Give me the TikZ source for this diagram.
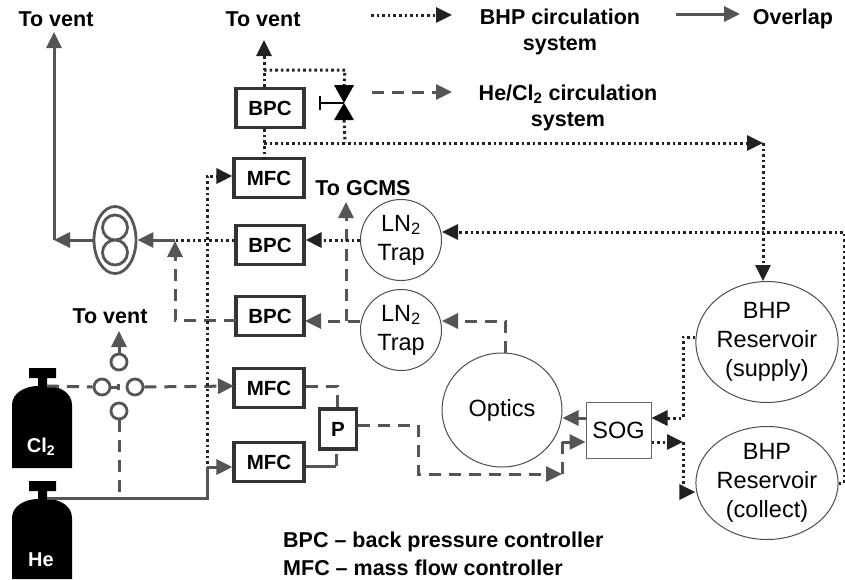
\documentclass[tikz,border=0pt]{standalone}
\usepackage{fontspec}
\setmainfont{Liberation Sans}
\usetikzlibrary{arrows.meta,shapes.geometric}
\definecolor{pipegray}{HTML}{555555}
\definecolor{pipedark}{HTML}{222222}
\tikzset{
 headtip/.style={-{Triangle[length=16pt,width=15pt]}},
 pipesolid/.style={draw=pipegray,line width=3pt,solid},
 pipedash/.style={draw=pipegray,line width=3pt,dash pattern=on 12pt off 8pt},
 pipedot/.style={draw=pipedark,line width=3pt,dash pattern=on 2.6pt off 3pt},
 ctrlbox/.style={draw=black!80,line width=3.2pt,rectangle,minimum width=68pt,minimum height=39pt,inner sep=0pt,font=\fontsize{20.5}{24}\selectfont\bfseries},
 vessel/.style={draw=black!70,line width=1pt,ellipse,inner sep=0pt,align=center,font=\fontsize{23.5}{29}\selectfont},
 portring/.style={draw=pipegray,line width=2.8pt,circle,minimum size=16pt,inner sep=0pt},
 lab/.style={font=\fontsize{21.5}{26}\selectfont\bfseries,align=center,inner sep=0pt},
 tanklab/.style={text=white,font=\fontsize{20}{24}\selectfont\bfseries,inner sep=0pt},
}
\begin{document}
\begin{tikzpicture}[x=1pt,y=-1pt]
 \useasboundingbox (0,0) rectangle (845,579);
 % controllers
 \node[ctrlbox] (bpca) at (270,108) {BPC};
 \node[ctrlbox,minimum width=70pt] (mfca) at (269,178) {MFC};
 \node[ctrlbox] (bpcb) at (270,245) {BPC};
 \node[ctrlbox] (bpcc) at (270,316) {BPC};
 \node[ctrlbox,minimum width=70pt] (mfcb) at (269,388) {MFC};
 \node[ctrlbox,minimum width=70pt] (mfcc) at (269,462) {MFC};
 \node[ctrlbox,minimum width=37pt,minimum height=40pt] (pbox) at (338,429) {P};
 % vessels
 \node[vessel,minimum width=81pt,minimum height=81pt] (traptop) at (401,240) {LN\textsubscript{2}\\Trap};
 \node[vessel,minimum width=81pt,minimum height=81pt] (trapbot) at (401,330) {LN\textsubscript{2}\\Trap};
 \node[vessel,minimum width=120pt,minimum height=114pt] (optics) at (502,410) {Optics};
 \node[draw=black!60,line width=1pt,minimum width=65pt,minimum height=56pt,inner sep=0pt,font=\fontsize{23.5}{29}\selectfont] (sog) at (618.5,430) {SOG};
 \node[vessel,minimum width=120pt,minimum height=121pt] (supply) at (767,342) {BHP\\Reservoir\\(supply)};
 \node[vessel,minimum width=120pt,minimum height=113pt] (collect) at (767,483) {BHP\\Reservoir\\(collect)};
 % pump
 \node[draw=pipegray,line width=2.8pt,ellipse,minimum width=42pt,minimum height=67pt,inner sep=0pt] (pump) at (115,240) {};
 \draw[pipegray,line width=2.8pt] (115,227.5) circle (12.5) (115,252.5) circle (12.5);
 % gas bottles
 \fill[black] (12,468)--(12,405) .. controls (12,393) and (25,386) .. (38,386)--(38,378)--(29,378)--(29,368)--(56,368)--(56,378)--(47,378)--(47,386) .. controls (60,386) and (72,393) .. (72,405)--(72,468)--cycle;
 \fill[black] (12,579)--(12,518) .. controls (12,506) and (25,499) .. (38,499)--(38,491)--(29,491)--(29,481)--(56,481)--(56,491)--(47,491)--(47,499) .. controls (60,499) and (72,506) .. (72,518)--(72,579)--cycle;
 \node[tanklab] (cllab) at (41,447) {Cl\textsubscript{2}};
 \node[tanklab] (helab) at (41,560) {He};
 \coordinate (clneck) at (47,386);
 \coordinate (heneck) at (47,498);
 % switching ports
 \node[portring] (portl) at (102,387) {};
 \node[portring] (portr) at (135,387) {};
 \node[portring] (portt) at (119,362) {};
 \node[portring] (portb) at (119,411) {};
 % valve
 \coordinate (vtop) at (344,85);
 \coordinate (vmid) at (344,103);
 \coordinate (vbot) at (344,120);
 \coordinate (vhand) at (320,103);
 \fill[black] (334,85)--(354,85)--(vmid)--cycle;
 \fill[black] (334,120)--(354,120)--(vmid)--cycle;
 \draw[black,line width=2.6pt] (vmid)--(vhand) (320,96)--(320,110);
 % labels
 \node[lab] (ventl) at (56,19) {To vent};
 \node[lab] (ventt) at (263,19) {To vent};
 \node[lab] (ventp) at (110,316) {To vent};
 \node[lab] (gcms) at (363,188) {To GCMS};
 \node[lab] (bhplab) at (560,32) {BHP circulation\\system};
 \node[lab] (overlab) at (793,19) {Overlap};
 \node[lab] (helab2) at (568,108) {He/Cl\textsubscript{2} circulation\\system};
 \node[lab,anchor=west] (bpckey) at (283,542) {BPC – back pressure controller};
 \node[lab,anchor=west] (mfckey) at (283,568) {MFC – mass flow controller};
 % legend arrows
 \coordinate (keya) at (371,15);
 \coordinate (keyb) at (452,15);
 \coordinate (keyc) at (676,14);
 \coordinate (keyd) at (740,14);
 \coordinate (keye) at (372,92);
 \coordinate (keyf) at (452,92);
 \draw[pipedot,headtip] (keya)--(keyb);
 \draw[pipesolid,headtip] (keyc)--(keyd);
 \draw[pipedash,headtip] (keye)--(keyf);
 % overlap lines
 \coordinate (ventcnr) at (54,240);
 \coordinate (ventend) at (54,32);
 \coordinate (pumpin) at (175,240);
 \coordinate (hefork) at (119,498);
 \coordinate (hecnr) at (207,498);
 \coordinate (heup) at (207,467);
 \draw[pipesolid,headtip] (pump.west)--(ventcnr);
 \draw[pipesolid,headtip] (ventcnr)--(ventend);
 \draw[pipesolid,headtip] (pumpin)--(pump.east);
 \draw[pipesolid] (heneck)--(hecnr)--(heup);
 \draw[pipesolid,headtip] (heup)--(mfcc.west |- heup);
 \coordinate (pinb) at (336,466);
 \draw[pipesolid] (mfcc.east |- pinb)--(pinb);
 \coordinate (sogup) at (562,474);
 \coordinate (sogcnr) at (562,442);
 \draw[pipesolid,headtip] (sogcnr)--(sog.west |- sogcnr);
 \coordinate (sogout) at (586,418);
 \draw[pipesolid,headtip] (sogout)--(optics.east |- sogout);
 % he/cl2 lines
 \coordinate (bpccin) at (305,321);
 \coordinate (gcmsj) at (346,321);
 \coordinate (gcmsend) at (346,202);
 \coordinate (bpccout) at (236,320);
 \coordinate (pumpj) at (175,320);
 \coordinate (pumpjt) at (175,241);
 \coordinate (optj) at (505,321);
 \coordinate (pinj) at (418,425);
 \coordinate (pindn) at (418,474);
 \coordinate (ventp2) at (119,331);
 \coordinate (clin) at (234,386);
 \coordinate (pcnr) at (337,386);
 \draw[pipedash,headtip] (bpccout)--(pumpj)--(pumpjt);
 \draw[pipedash,headtip] (trapbot.west |- gcmsj)--(bpccin);
 \draw[pipedash,headtip] (gcmsj)--(gcmsend);
 \draw[pipedash,headtip] (optics.north -| optj)--(optj)--(trapbot.east |- optj);
 \draw[pipedash] (clneck)--(portl.west);
 \draw[pipedash,headtip] (portr.east)--(clin);
 \draw[pipesolid] (portl.east)--(118,387) (118,384)--(118,390);
 \draw[pipedash,headtip] (portt.north)--(ventp2);
 \draw[pipedash] (portb.south)--(hefork);
 \draw[pipedash] (mfcb.east |- pcnr)--(pcnr)--(pbox.north -| pcnr);
 \draw[pipedash] (pinb)--(pbox.south -| pinb);
 \draw[pipedash,headtip] (pbox.east |- pinj)--(pinj)--(pindn)--(sogup);
 \draw[pipedash] (sogup)--(sogcnr);
 % bhp lines
 \coordinate (ventjt) at (264,70);
 \coordinate (valvej) at (345,70);
 \coordinate (mainj) at (264,143);
 \coordinate (mainv) at (345,143);
 \coordinate (maine) at (763,143);
 \coordinate (mfcdrop) at (264,159);
 \coordinate (venttip) at (264,40);
 \coordinate (mfcfeed) at (207,176);
 \coordinate (mfcfoot) at (207,464);
 \coordinate (bpcbj) at (175,240);
 \coordinate (sogj) at (683,418);
 \coordinate (colj) at (683,442);
 \coordinate (colk) at (683,492);
 \coordinate (supj) at (683,337);
 \coordinate (retr) at (844,483);
 \coordinate (retu) at (844,232);
 \draw[pipedot,headtip] (bpca.north -| ventjt)--(venttip);
 \draw[pipedot] (ventjt)--(valvej)--(vtop);
 \draw[pipedot] (vbot)--(mainv);
 \draw[pipedot] (bpca.south -| mainj)--(mfcdrop);
 \draw[pipedot,headtip] (mainj)--(maine);
 \draw[pipedot,headtip] (maine)--(supply.north -| maine);
 \draw[pipedot,headtip] (mfcfoot)--(mfcfeed)--(mfca.west |- mfcfeed);
 \draw[pipedot] (bpcb.west |- bpcbj)--(bpcbj);
 \draw[pipedot,headtip] (traptop.west)--(bpcb.east |- traptop.west);
 \draw[pipedot,headtip] (supply.west |- supj)--(supj)--(sogj)--(sog.east |- sogj);
 \draw[pipedot,headtip] (sog.east |- colj)--(colj);
 \draw[pipedot,headtip] (colj)--(colk)--(collect.west |- colk);
 \draw[pipedot,headtip] (collect.east)--(retr)--(retu)--(traptop.east |- retu);
\end{tikzpicture}
\end{document}
